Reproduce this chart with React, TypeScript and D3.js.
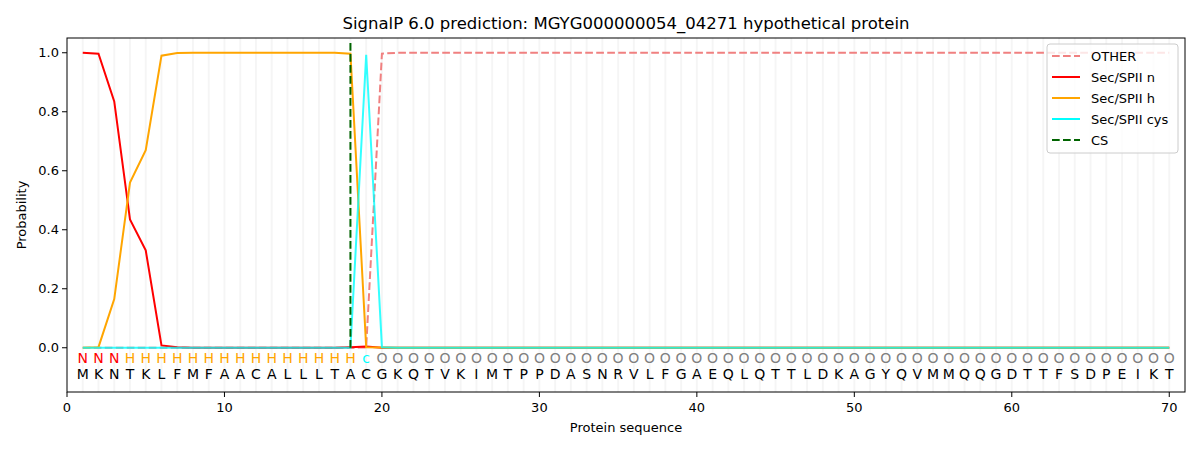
import React from "react";
import * as d3 from "d3";

const sequence = "MKNTKLFMFAACALLLTACGKQTVKIMTPPDASNRVLFGAEQLQTTLDKAGYQVMMQQGDTTFSDPEIKT".split("");
const annotation = ("NNN" + "H".repeat(15) + "c" + "O".repeat(51)).split("");
const positions = sequence.map((_, i) => i + 1);

const secN: number[] = [1.0, 0.997, 0.835, 0.435, 0.33, 0.008, 0.002, 0, 0, 0, 0, 0, 0, 0, 0, 0, 0, 0.002, 0.004, 0, ...Array(50).fill(0)];
const secH: number[] = [0, 0.002, 0.165, 0.56, 0.67, 0.99, 0.999, 1, 1, 1, 1, 1, 1, 1, 1, 1, 1, 0.997, 0.002, 0.001, ...Array(50).fill(0)];
const secCys: number[] = [...Array(18).fill(0), 0.993, 0.002, ...Array(50).fill(0)];
const other: number[] = [...Array(18).fill(0), 0.001, 0.997, ...Array(50).fill(1.0)];
const csPos = 18;

const xTicks = [0, 10, 20, 30, 40, 50, 60, 70];
const yTicks = [0, 0.2, 0.4, 0.6, 0.8, 1.0];

const annColor: Record<string, string> = { N: "#ff0000", H: "#ffa500", c: "#00ffff", O: "#808080" };

const W = 1200, H = 450;
const M = { left: 67, right: 1185, top: 38, bottom: 392 };

export default function App() {
  const x = d3.scaleLinear().domain([0, 71]).range([M.left, M.right]);
  const y = d3.scaleLinear().domain([-0.15, 1.05]).range([M.bottom, M.top]);
  const line = (vals: number[]) =>
    d3.line<number>().x((_, i) => x(positions[i])).y((v) => y(v))(vals) || "";
  const font = "DejaVu Sans, sans-serif";
  const series = [
    { name: "OTHER", color: "#f08080", dash: "7.7,3.3", vals: other, op: 1 },
    { name: "Sec/SPII n", color: "#ff0000", dash: "", vals: secN, op: 1 },
    { name: "Sec/SPII h", color: "#ffa500", dash: "", vals: secH, op: 1 },
    { name: "Sec/SPII cys", color: "#00ffff", dash: "", vals: secCys, op: 0.8 },
  ];
  const legendItems = [
    ...series.map((s) => ({ name: s.name, color: s.color, dash: s.dash })),
    { name: "CS", color: "#006400", dash: "7.7,3.3" },
  ];
  return (
    <div style={{ position: "absolute", left: 0, top: 0 }}>
      <svg width={W} height={H} style={{ display: "block", background: "#fff" }} fontFamily={font}>
        {positions.map((p) => (
          <line key={"g" + p} x1={x(p)} x2={x(p)} y1={M.top} y2={M.bottom} stroke="#000" strokeOpacity={0.04} strokeWidth={2} />
        ))}
        {series.map((s) => (
          <path key={s.name} d={line(s.vals)} fill="none" stroke={s.color} strokeWidth={2} strokeDasharray={s.dash || undefined} strokeOpacity={s.op} />
        ))}
        <line x1={x(csPos)} x2={x(csPos)} y1={y(0)} y2={M.top + 2} stroke="#006400" strokeWidth={2} strokeDasharray="7.7,3.3" />
        {positions.map((p, i) => (
          <text key={"a" + p} x={x(p)} y={y(-0.05)} fontSize={14} textAnchor="middle" fill={annColor[annotation[i]]}>{annotation[i]}</text>
        ))}
        {positions.map((p, i) => (
          <text key={"s" + p} x={x(p)} y={y(-0.105)} fontSize={14} textAnchor="middle" fill="#000">{sequence[i]}</text>
        ))}
        <rect x={M.left} y={M.top} width={M.right - M.left} height={M.bottom - M.top} fill="none" stroke="#000" strokeWidth={1} />
        {xTicks.map((t) => (
          <g key={"x" + t}>
            <line x1={x(t)} x2={x(t)} y1={M.bottom} y2={M.bottom + 5} stroke="#000" />
            <text x={x(t)} y={M.bottom + 20} fontSize={13} textAnchor="middle">{t}</text>
          </g>
        ))}
        {yTicks.map((t) => (
          <g key={"y" + t}>
            <line x1={M.left - 5} x2={M.left} y1={y(t)} y2={y(t)} stroke="#000" />
            <text x={M.left - 8} y={y(t) + 4.5} fontSize={13} textAnchor="end">{t.toFixed(1)}</text>
          </g>
        ))}
        <text x={(M.left + M.right) / 2} y={432} fontSize={13} textAnchor="middle">Protein sequence</text>
        <text transform={`translate(26,${(M.top + M.bottom) / 2}) rotate(-90)`} fontSize={13} textAnchor="middle">Probability</text>
        <text x={(M.left + M.right) / 2} y={29} fontSize={16.5} textAnchor="middle">SignalP 6.0 prediction: MGYG000000054_04271 hypothetical protein</text>
        <g>
          <rect x={1047} y={44} width={131} height={109} rx={3} fill="#fff" fillOpacity={0.8} stroke="#ccc" strokeWidth={1} />
          {legendItems.map((it, i) => (
            <g key={it.name}>
              <line x1={1052} x2={1080} y1={56 + i * 21} y2={56 + i * 21} stroke={it.color} strokeWidth={2} strokeDasharray={it.dash || undefined} />
              <text x={1091} y={56 + i * 21 + 4.5} fontSize={13}>{it.name}</text>
            </g>
          ))}
        </g>
      </svg>
    </div>
  );
}
